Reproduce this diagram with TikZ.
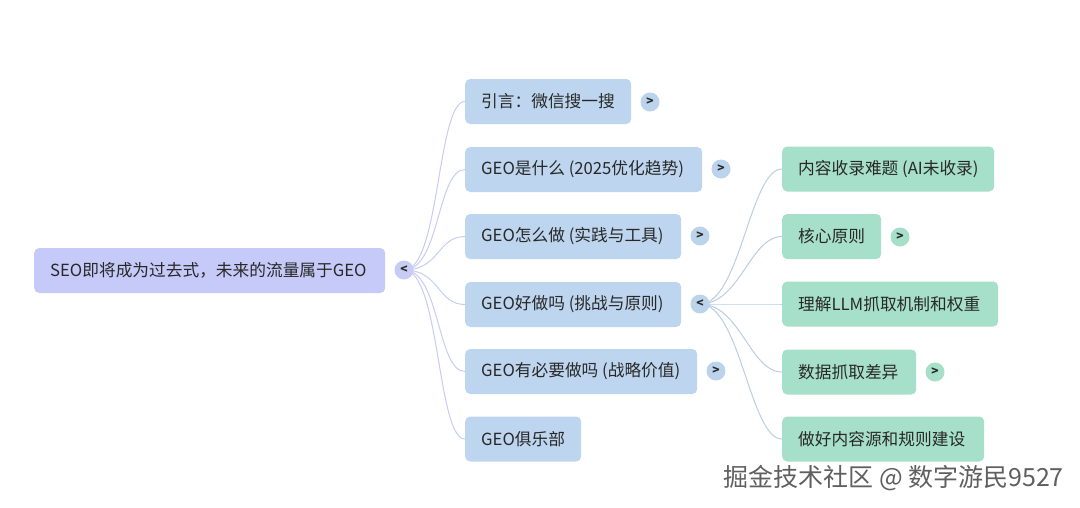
\documentclass[tikz,border=0pt]{standalone}
\usepackage{fontspec}
\setmainfont{Noto Sans CJK SC}
\begin{document}
\begin{tikzpicture}[x=1pt,y=-1pt,
  boxbase/.style={rounded corners=5pt, draw=none, minimum height=45pt, inner ysep=0pt, inner xsep=16pt, anchor=west, text={rgb,255:red,40;green,40;blue,40}, font=\fontsize{16.7}{19}\selectfont},
  rootbox/.style={boxbase, fill={rgb,255:red,198;green,202;blue,248}},
  onebox/.style={boxbase, fill={rgb,255:red,189;green,213;blue,238}},
  twobox/.style={boxbase, fill={rgb,255:red,166;green,223;blue,202}},
  togglebase/.style={circle, minimum size=19pt, inner sep=0pt, text={rgb,255:red,40;green,40;blue,40}, font=\fontsize{12}{12}\selectfont\bfseries},
  roottog/.style={togglebase, fill={rgb,255:red,200;green,204;blue,245}},
  onetog/.style={togglebase, fill={rgb,255:red,188;green,211;blue,236}},
  twotog/.style={togglebase, fill={rgb,255:red,166;green,223;blue,202}},
  rootlink/.style={draw={rgb,255:red,200;green,203;blue,243}, line width=1pt},
  onelink/.style={draw={rgb,255:red,185;green,205;blue,227}, line width=1pt},
]
\useasboundingbox (0,0) rectangle (1080,507);

% connectors (drawn first, under the nodes)
\coordinate (rtc) at (404,270);
\coordinate (t4c) at (700,304);

% root
\node[rootbox] (root) at (34,270.5) {\makebox[319pt][l]{SEO即将成为过去式，未来的流量属于GEO}};

% level 1
\node[onebox] (b1) at (465,101.5) {\makebox[134pt][l]{引言：微信搜一搜}};
\node[onebox] (b2) at (465,169.5) {\makebox[205pt][l]{GEO是什么 (2025优化趋势)}};
\node[onebox] (b3) at (465,236.5) {\makebox[184pt][l]{GEO怎么做 (实践与工具)}};
\node[onebox] (b4) at (465,304.5) {\makebox[184pt][l]{GEO好做吗 (挑战与原则)}};
\node[onebox] (b5) at (465,371.5) {\makebox[200pt][l]{GEO有必要做吗 (战略价值)}};
\node[onebox] (b6) at (465,439) {\makebox[84pt][l]{GEO俱乐部}};

% level 2
\node[twobox] (c1) at (782,169) {\makebox[180pt][l]{内容收录难题 (AI未收录)}};
\node[twobox] (c2) at (782,236.5) {\makebox[67pt][l]{核心原则}};
\node[twobox] (c3) at (782,304) {\makebox[184pt][l]{理解LLM抓取机制和权重}};
\node[twobox] (c4) at (782,372) {\makebox[102pt][l]{数据抓取差异}};
\node[twobox] (c5) at (782,439) {\makebox[170pt][l]{做好内容源和规则建设}};

\foreach \b in {b1,b2,b3,b4,b5,b6}
  \draw[rootlink] (rtc) .. controls +(36,0) and +(-28,0) .. (\b.west);
\foreach \c in {c1,c2,c3,c4,c5}
  \draw[onelink] (t4c) .. controls +(40,0) and +(-32,0) .. (\c.west);

% toggles
\node[roottog] (rt) at (rtc) {<};
\node[onetog] (t1) at (650,102) {>};
\node[onetog] (t2) at (721,169) {>};
\node[onetog] (t3) at (700,236) {>};
\node[onetog] (t4) at (t4c) {<};
\node[onetog] (t5) at (716,371) {>};
\node[twotog] (u2) at (900,237) {>};
\node[twotog] (u4) at (935,372) {>};

% watermark
\node[anchor=east, inner sep=0pt, text={rgb,255:red,95;green,95;blue,95}, font=\fontsize{25}{27}\selectfont] (wm) at (1064,478) {掘金技术社区 @ 数字游民9527};
\end{tikzpicture}
\end{document}
